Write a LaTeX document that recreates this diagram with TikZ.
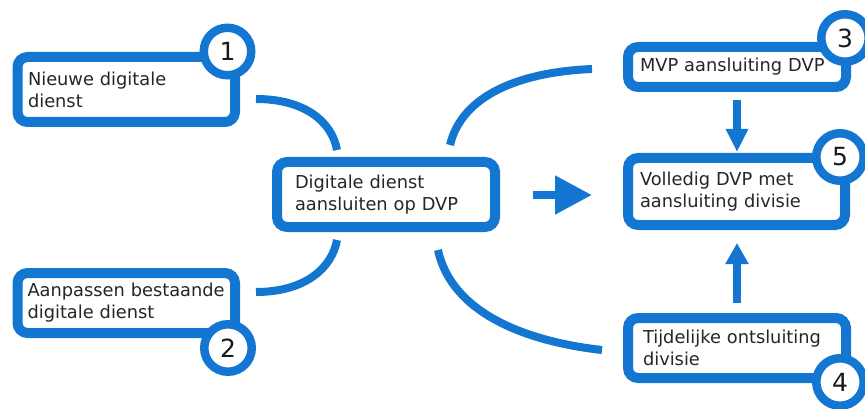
\documentclass[tikz,border=0pt]{standalone}
\usepackage{fontspec}
\setmainfont{DejaVu Sans}
\usetikzlibrary{arrows.meta}
\definecolor{dvpblue}{HTML}{1377D2}
\begin{document}
\begin{tikzpicture}[x=1pt,y=-1pt,
  box/.style={draw=dvpblue, line width=10pt, rounded corners=10pt, fill=white,
    align=left, inner ysep=0pt, font=\fontsize{17.8}{22}\selectfont, text=black!85},
  num/.style={circle, draw=dvpblue, line width=8.5pt, fill=white,
    minimum size=47.5pt, inner sep=0pt, font=\fontsize{25}{25}\selectfont, text=black!90},
  link/.style={draw=dvpblue, line width=8pt},
  ]
\useasboundingbox (0,0) rectangle (865,409);

% boxes
\node[box, minimum height=65pt, inner xsep=10.5pt, text width=196.5pt] (b1) at (126.25,89.5) {Nieuwe digitale\\dienst};
\node[box, minimum height=60pt, inner xsep=10pt, text width=197.5pt] (b2) at (126.25,303) {Aanpassen bestaande\\digitale dienst};
\node[box, minimum height=65pt, inner xsep=18pt, text width=182pt] (bc) at (386,194.5) {Digitale dienst\\aansluiten op DVP};
\node[box, minimum height=40pt, inner xsep=12pt, text width=194pt] (b3) at (737,67) {MVP aansluiting DVP};
\node[box, minimum height=67pt, inner xsep=12pt, text width=193pt] (b5) at (736.5,191.5) {Volledig DVP met\\aansluiting divisie};
\node[box, minimum height=60pt, inner xsep=15pt, text width=188pt] (b4) at (737,348) {Tijdelijke ontsluiting\\divisie};

% number circles
\node[num] (n1) at (227.5,51.5) {1};
\node[num] (n2) at (228,348) {2};
\node[num] (n3) at (845,38) {3};
\node[num] (n5) at (840,157) {5};
\node[num] (n4) at (840,382) {4};

% connector arcs
\coordinate (a1s) at (256,99);  \coordinate (a1e) at (337,150);
\coordinate (a2s) at (337,240); \coordinate (a2e) at (256,292);
\coordinate (a3s) at (450,145); \coordinate (a3e) at (592,69);
\coordinate (a4s) at (438,250); \coordinate (a4e) at (602,350);
\draw[link] (a1s) .. controls (305,99) and (332,122) .. (a1e);
\draw[link] (a2s) .. controls (332,268) and (305,292) .. (a2e);
\draw[link] (a3s) .. controls (462,95) and (520,72) .. (a3e);
\draw[link] (a4s) .. controls (452,315) and (530,342) .. (a4e);

% arrows
\coordinate (h1) at (533,195); \coordinate (h2) at (592,195);
\draw[link, -{Triangle[length=37pt,width=37pt]}] (h1) -- (h2);
\coordinate (v1) at (737,100); \coordinate (v2) at (737,152);
\draw[link, -{Triangle[length=23pt,width=21pt]}] (v1) -- (v2);
\coordinate (w1) at (737,303); \coordinate (w2) at (737,243);
\draw[link, -{Triangle[length=21pt,width=22pt]}] (w1) -- (w2);
\end{tikzpicture}
\end{document}
